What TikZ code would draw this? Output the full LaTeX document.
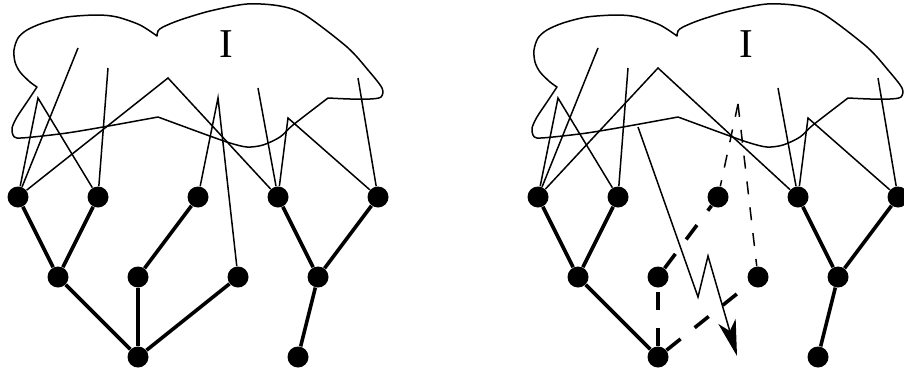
\documentclass[tikz,border=0pt]{standalone}
\usepackage{fontspec}
\setmainfont{Liberation Serif}
\usepackage{tikz}
\usetikzlibrary{arrows.meta}

\begin{document}
\begin{tikzpicture}[
  x=0.5pt, y=-0.5pt,
  dot/.style={circle, fill=black, inner sep=0pt, minimum size=10.5pt},
  tree/.style={line width=1.8pt},
  link/.style={line width=0.75pt},
  cloud/.style={line width=0.75pt, line join=round},
  moved/.style={line width=1.8pt, dash pattern=on 9pt off 9pt},
  guess/.style={line width=0.75pt, dash pattern=on 6.5pt off 6.5pt},
  jump/.style={line width=0.75pt, -{Stealth[length=18pt, width=9pt, inset=5pt]}},
]
  \useasboundingbox (0,0) rectangle (904,370);

  % both panels share the cloud, the nodes and most links
  \foreach \dx/\p/\kx/\ky in {0/l/168/78, 520/r/138/68} {
    \begin{scope}[shift={(\dx,0)}]
      \draw[cloud] plot[smooth] coordinates {(37,87) (30,82) (20,72) (15,62) (14,50)
          (18,38) (27,30) (43,23) (67,17) (97,15) (117,17) (140,25) (157,36)}
        -- plot[smooth] coordinates {(157,36) (158,31) (163,27) (180,20) (210,11)
          (247,4) (280,6) (305,15) (347,47) (368,70) (382,88) (381,97) (370,99)
          (350,99) (328,98)}
        -- plot[smooth] coordinates {(328,98) (293,125) (280,137) (263,145) (247,147)
          (230,143) (207,135) (158,117)}
        -- plot[smooth] coordinates {(158,117) (103,127) (67,133) (33,137) (17,138)
          (13,135) (12,128) (17,117) (27,102) (37,87)} -- cycle;
      \node[font=\fontsize{20.5}{24}\selectfont] (\p-I) at (226,44) {I};

      \node[dot] (\p-t1) at (18,197) {};
      \node[dot] (\p-t2) at (98,197) {};
      \node[dot] (\p-t3) at (198,197) {};
      \node[dot] (\p-t4) at (278,197) {};
      \node[dot] (\p-t5) at (378,197) {};
      \node[dot] (\p-m1) at (58,277) {};
      \node[dot] (\p-m2) at (138,277) {};
      \node[dot] (\p-m3) at (238,277) {};
      \node[dot] (\p-m4) at (318,277) {};
      \node[dot] (\p-b1) at (138,357) {};
      \node[dot] (\p-b2) at (298,357) {};

      \coordinate (\p-c1) at (78,48);
      \coordinate (\p-c2) at (38,98);
      \coordinate (\p-c3) at (108,68);
      \coordinate (\p-k) at (\kx,\ky);
      \coordinate (\p-c4) at (258,88);
      \coordinate (\p-c5) at (288,118);
      \coordinate (\p-c6) at (358,78);

      \draw[tree] (\p-t1) -- (\p-m1);
      \draw[tree] (\p-t2) -- (\p-m1);
      \draw[tree] (\p-m1) -- (\p-b1);
      \draw[tree] (\p-t4) -- (\p-m4);
      \draw[tree] (\p-t5) -- (\p-m4);
      \draw[tree] (\p-m4) -- (\p-b2);

      \draw[link] (\p-t1) -- (\p-c1);
      \draw[link] (\p-t1) -- (\p-c2) -- (\p-t2);
      \draw[link] (\p-t1) -- (\p-k) -- (\p-t4);
      \draw[link] (\p-t2) -- (\p-c3);
      \draw[link] (\p-t4) -- (\p-c4);
      \draw[link] (\p-t4) -- (\p-c5) -- (\p-t5);
      \draw[link] (\p-t5) -- (\p-c6);
    \end{scope}
  }

  % left panel: the tree as it is
  \coordinate (l-c7) at (218,98);
  \draw[tree] (l-t3) -- (l-m2);
  \draw[tree] (l-m2) -- (l-b1);
  \draw[tree] (l-m3) -- (l-b1);
  \draw[link] (l-t3) -- (l-c7) -- (l-m3);

  % right panel: the moved part
  \coordinate (r-c7) at (738,104);
  \draw[guess] (r-c7) -- (r-t3);
  \draw[guess] (r-c7) -- (r-m3);
  \draw[moved] (r-b1) -- (r-m2);
  \draw[moved] (r-m2) -- (r-t3);
  \draw[moved] (r-b1) -- (r-m3);

  \coordinate (r-z0) at (638,127);
  \coordinate (r-z1) at (698,297);
  \coordinate (r-z2) at (708,256);
  \coordinate (r-z3) at (737,356);
  \draw[jump] (r-z0) -- (r-z1) -- (r-z2) -- (r-z3);
\end{tikzpicture}
\end{document}
